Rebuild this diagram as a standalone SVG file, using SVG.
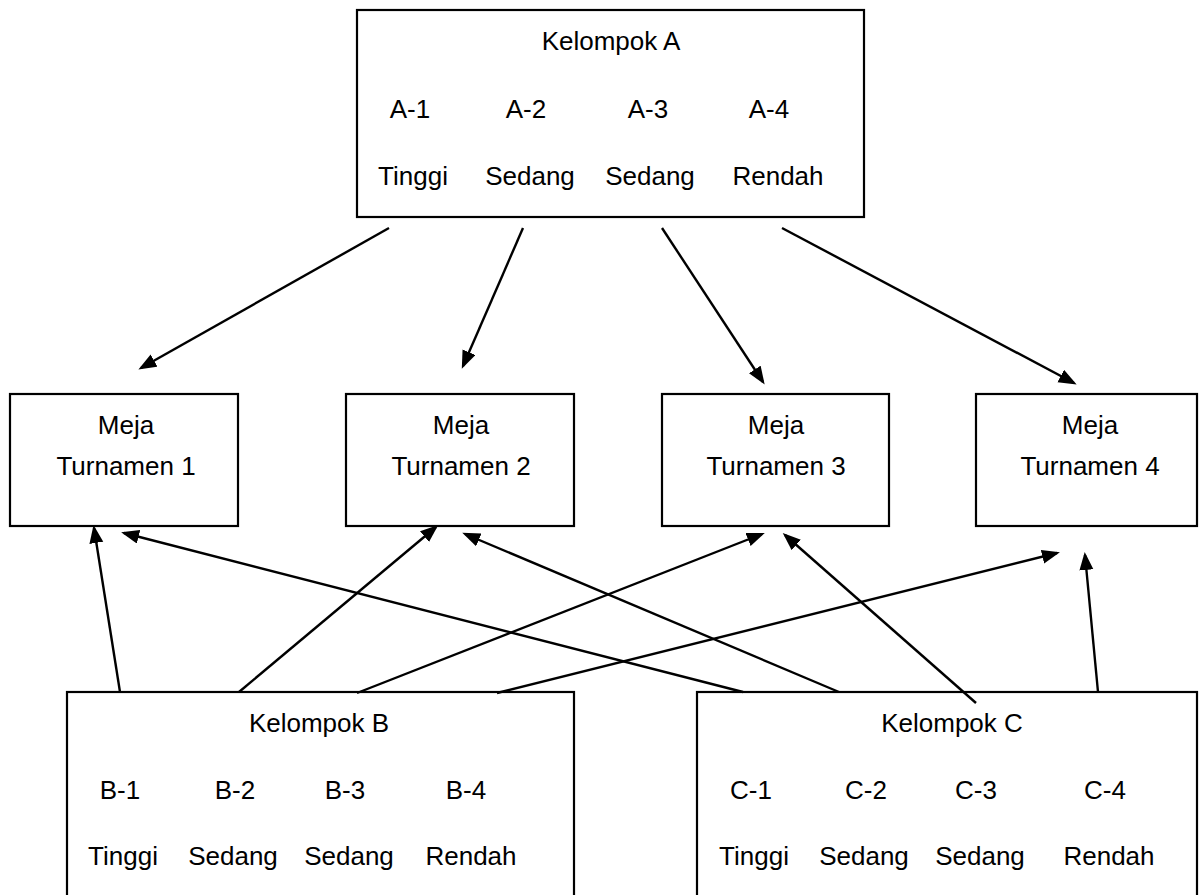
<svg xmlns="http://www.w3.org/2000/svg" width="1199" height="895" viewBox="0 0 1199 895">
<style>
.box{fill:#fff;stroke:#000;stroke-width:2.2}
.t{font-family:"Liberation Sans",Arial,sans-serif;font-size:26px;fill:#000;text-anchor:middle}
.c{stroke:#000;stroke-width:2.4;fill:none;marker-end:url(#ah)}
</style>
<defs>
<marker id="ah" markerUnits="userSpaceOnUse" markerWidth="19" markerHeight="15" refX="15" refY="7" orient="auto">
<path d="M0,0 L18,7 L0,14 z" fill="#000"/>
</marker>
</defs>
<rect width="1199" height="895" fill="#fff"/>
<g id="kelompok-a">
<rect class="box" x="357" y="10" width="507" height="207"/>
<text class="t" x="611" y="50">Kelompok A</text>
<text class="t" x="410" y="118">A-1</text>
<text class="t" x="526" y="118">A-2</text>
<text class="t" x="648" y="118">A-3</text>
<text class="t" x="769" y="118">A-4</text>
<text class="t" x="413" y="185">Tinggi</text>
<text class="t" x="530" y="185">Sedang</text>
<text class="t" x="650" y="185">Sedang</text>
<text class="t" x="778" y="185">Rendah</text>
</g>
<g id="meja-1">
<rect class="box" x="10" y="394" width="228" height="132"/>
<text class="t" x="126" y="434">Meja</text>
<text class="t" x="126" y="475">Turnamen 1</text>
</g>
<g id="meja-2">
<rect class="box" x="346" y="394" width="228" height="132"/>
<text class="t" x="461" y="434">Meja</text>
<text class="t" x="461" y="475">Turnamen 2</text>
</g>
<g id="meja-3">
<rect class="box" x="662" y="394" width="227" height="132"/>
<text class="t" x="776" y="434">Meja</text>
<text class="t" x="776" y="475">Turnamen 3</text>
</g>
<g id="meja-4">
<rect class="box" x="976" y="394" width="221" height="132"/>
<text class="t" x="1090" y="434">Meja</text>
<text class="t" x="1090" y="475">Turnamen 4</text>
</g>
<g id="kelompok-b">
<rect class="box" x="67" y="692" width="507" height="215"/>
<text class="t" x="319" y="732">Kelompok B</text>
<text class="t" x="120" y="799">B-1</text>
<text class="t" x="235" y="799">B-2</text>
<text class="t" x="345" y="799">B-3</text>
<text class="t" x="466" y="799">B-4</text>
<text class="t" x="123" y="865">Tinggi</text>
<text class="t" x="233" y="865">Sedang</text>
<text class="t" x="349" y="865">Sedang</text>
<text class="t" x="471" y="865">Rendah</text>
</g>
<g id="kelompok-c">
<rect class="box" x="697" y="692" width="500" height="215"/>
<text class="t" x="952" y="732">Kelompok C</text>
<text class="t" x="751" y="799">C-1</text>
<text class="t" x="866" y="799">C-2</text>
<text class="t" x="976" y="799">C-3</text>
<text class="t" x="1105" y="799">C-4</text>
<text class="t" x="754" y="865">Tinggi</text>
<text class="t" x="864" y="865">Sedang</text>
<text class="t" x="980" y="865">Sedang</text>
<text class="t" x="1109" y="865">Rendah</text>
</g>
<g id="connectors">
<line class="c" x1="389" y1="228" x2="141" y2="368"/>
<line class="c" x1="523" y1="228" x2="463" y2="366"/>
<line class="c" x1="662" y1="228" x2="763" y2="382"/>
<line class="c" x1="782" y1="228" x2="1074" y2="383"/>
<line class="c" x1="120" y1="692" x2="94" y2="528"/>
<line class="c" x1="239" y1="692" x2="436" y2="527"/>
<line class="c" x1="357" y1="693" x2="762" y2="534"/>
<line class="c" x1="497" y1="693" x2="1057" y2="553"/>
<line class="c" x1="743" y1="692" x2="124" y2="533"/>
<line class="c" x1="839" y1="692" x2="465" y2="534"/>
<line class="c" x1="976" y1="703" x2="785" y2="535"/>
<line class="c" x1="1098" y1="692" x2="1085" y2="555"/>
</g>
</svg>
